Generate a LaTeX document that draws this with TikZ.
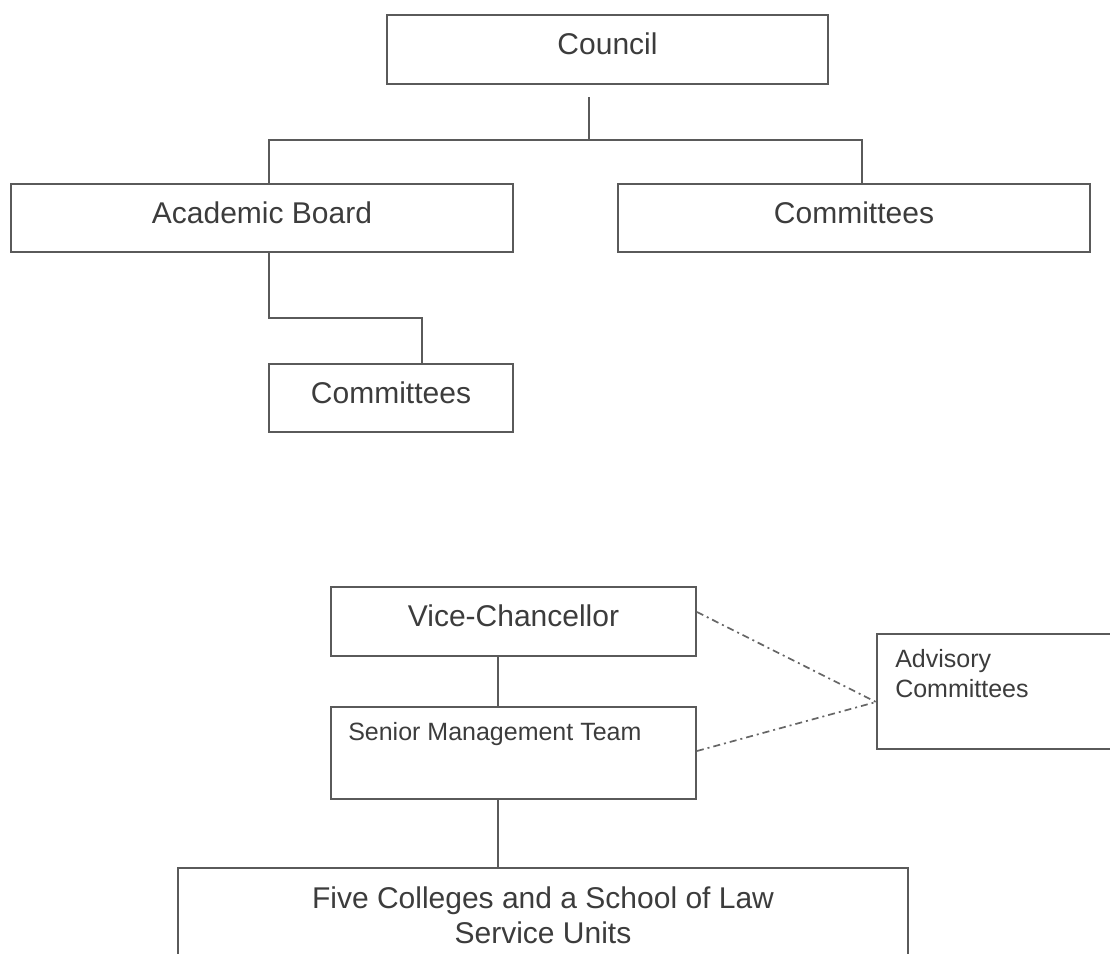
\documentclass[tikz,border=0pt]{standalone}
\usepackage{fontspec}
\setmainfont{Liberation Sans}
\definecolor{linegray}{HTML}{5A5A5A}
\definecolor{dashgray}{HTML}{666666}
\definecolor{textgray}{HTML}{3C3C3C}

\begin{document}
\begin{tikzpicture}[x=1pt,y=-1pt,
  box/.style={draw=linegray,line width=1.9pt,text=textgray,inner sep=0pt,
    font=\fontsize{30}{35}\selectfont,text height=22pt,text depth=12pt},
  boxtext/.style={text=textgray,inner sep=0pt,font=\fontsize{25}{30}\selectfont},
  link/.style={draw=linegray,line width=1.7pt},
  advice/.style={draw=dashgray,line width=1.7pt,dash pattern=on 7pt off 4pt on 2pt off 4pt}]
\useasboundingbox (0,0) rectangle (1110,953);
\clip (0,0) rectangle (1110,953);

% Council and its boards
\node[box,minimum width=441pt,minimum height=69pt] (council) at (607.5,49.5) {Council};
\node[box,minimum width=502pt,minimum height=68pt] (academic) at (262,218) {Academic Board};
\node[box,minimum width=472pt,minimum height=68pt] (committees) at (854,218) {Committees};
\node[box,minimum width=244pt,minimum height=68pt] (subcommittees) at (391,398) {Committees};

% Tree links of the upper chart
\coordinate (councilstem) at (589,97);
\coordinate (councilbus) at (589,140);
\coordinate (boardbend) at (269,318);
\draw[link] (councilstem) -- (councilbus);
\draw[link] ([xshift=7pt]academic.north) |- (councilbus) -| ([xshift=8pt]committees.north);
\draw[link] ([xshift=7pt]academic.south) -- (boardbend) -| ([xshift=31pt]subcommittees.north);

% Executive chart
\node[box,minimum width=365pt,minimum height=69pt] (vc) at (513.5,621.5) {Vice-Chancellor};
\node[box,minimum width=365pt,minimum height=92pt] (smt) at (513.5,753) {};
\node[boxtext,anchor=base west] (smttext) at ([shift={(18pt,-34pt)}]smt.north west) {Senior Management Team};
\node[box,minimum width=300pt,minimum height=115pt] (advisory) at (1027,691.5) {};
\node[boxtext,anchor=north west,align=left] (advisorytext) at ([shift={(19pt,-16pt)}]advisory.north west) {Advisory\\Committees};
\node[box,minimum width=730pt,minimum height=134pt] (colleges) at (543,935) {};
\node[boxtext,anchor=north,align=center,font=\fontsize{30}{35}\selectfont] (collegestext)
  at ([yshift=-19pt]colleges.north) {Five Colleges and a School of Law\\Service Units};

% Line links and advisory links
\coordinate (vcstem) at ([xshift=-15.5pt]vc.south);
\coordinate (advisoryin) at ([yshift=-10.5pt]advisory.west);
\draw[link] (vcstem) -- (smt.north -| vcstem);
\draw[link] (smt.south -| vcstem) -- (colleges.north -| vcstem);
\draw[advice] ([yshift=9.5pt]vc.east) -- (advisoryin);
\draw[advice] ([yshift=2pt]smt.east) -- (advisoryin);
\end{tikzpicture}
\end{document}
